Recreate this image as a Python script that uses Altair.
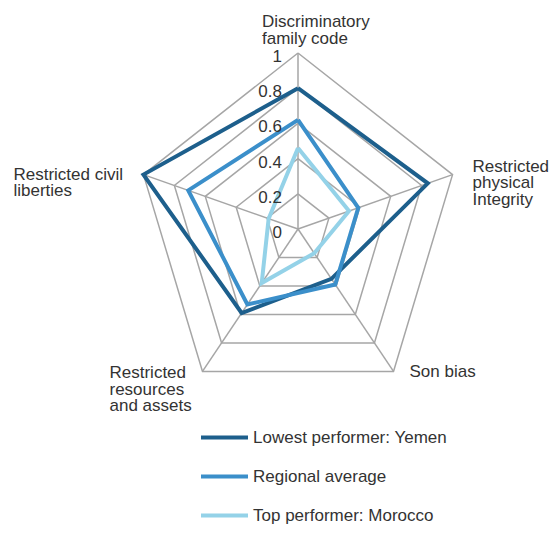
import math
import altair as alt
import pandas as pd

categories = ["Discriminatory family code", "Restricted physical Integrity", "Son bias",
              "Restricted resources and assets", "Restricted civil liberties"]
cat_lines = [["Discriminatory", "family code"], ["Restricted", "physical", "Integrity"], ["Son bias"],
             ["Restricted", "resources", "and assets"], ["Restricted civil", "liberties"]]
series = ["Lowest performer: Yemen", "Regional average", "Top performer: Morocco"]
yemen = [0.80, 0.84, 0.35, 0.59, 1.00]
regional = [0.62, 0.39, 0.39, 0.53, 0.71]
morocco = [0.46, 0.33, 0.17, 0.38, 0.19]
ring_levels = [0.2, 0.4, 0.6, 0.8, 1.0]
tick_labels = ["0", "0.2", "0.4", "0.6", "0.8", "1"]
tick_values = [0, 0.2, 0.4, 0.6, 0.8, 1.0]
colors = ["#1d5f8c", "#3b8fca", "#94d2e8"]

# label offsets (style)
lab_dx = [-36, 20, 16, -93, -130]
lab_dy = [-31, -8, 1, 2, 0]

n = len(categories)
ang = [2 * math.pi * i / n for i in range(n)]

def pt(r, i):
    return r * math.sin(ang[i]), r * math.cos(ang[i])

rows = []
for s, vals in zip(series, [yemen, regional, morocco]):
    for k in range(n + 1):
        i = k % n
        x, y = pt(vals[i], i)
        rows.append({"series": s, "idx": k, "x": x, "y": y})
df = pd.DataFrame(rows)

grid = []
for lv in ring_levels:
    for k in range(n + 1):
        i = k % n
        x, y = pt(lv, i)
        grid.append({"ring": lv, "idx": k, "x": x, "y": y})
gdf = pd.DataFrame(grid)

spokes = pd.DataFrame([{"x": 0.0, "y": 0.0, "x2": pt(1, i)[0], "y2": pt(1, i)[1]} for i in range(n)])
ticks = pd.DataFrame({"x": [0.0] * len(tick_values), "y": tick_values, "t": tick_labels})
labs = pd.DataFrame([{"x": pt(1, i)[0], "y": pt(1, i)[1], "t": cat_lines[i]} for i in range(n)])

W, H = 541, 517
ux, uy = 162.5, 176.0
cxp, cyp = 290, 221
xdom = [-cxp / ux, (W - cxp) / ux]
ydom = [(cyp - H) / uy, cyp / uy]
X = lambda f="x": alt.X(f"{f}:Q", scale=alt.Scale(domain=xdom, nice=False, zero=False), axis=None)
Y = lambda f="y": alt.Y(f"{f}:Q", scale=alt.Scale(domain=ydom, nice=False, zero=False), axis=None)

grid_layer = alt.Chart(gdf).mark_line(color="#a6a6a6", strokeWidth=1.5).encode(
    x=X(), y=Y(), detail="ring:N", order="idx:Q")
spoke_layer = alt.Chart(spokes).mark_rule(color="#a6a6a6", strokeWidth=1.5).encode(
    x=X(), y=Y(), x2="x2:Q", y2="y2:Q")
tick_layer = alt.Chart(ticks).mark_text(align="right", baseline="middle", dx=-16, dy=4,
                                         fontSize=17, color="#333333", font="Liberation Sans").encode(
    x=X(), y=Y(), text="t:N")

label_layers = []
for i in range(n):
    label_layers.append(
        alt.Chart(labs.iloc[[i]]).mark_text(align="left", baseline="middle", dx=lab_dx[i], dy=lab_dy[i],
                                             fontSize=17, lineHeight=16.5, color="#333333",
                                             font="Liberation Sans").encode(x=X(), y=Y(), text="t")
    )

data_layer = alt.Chart(df).mark_line(strokeWidth=4, strokeJoin="miter").encode(
    x=X(), y=Y(), order="idx:Q",
    color=alt.Color("series:N", sort=series,
                    scale=alt.Scale(domain=series, range=colors),
                    legend=alt.Legend(title=None, orient="none", legendX=191, legendY=404,
                                      symbolType="stroke", symbolStrokeWidth=4, symbolSize=2209,
                                      labelFontSize=17, labelFont="Liberation Sans", labelColor="#333333",
                                      labelLimit=400, rowPadding=5, labelOffset=3, padding=0)))

chart = alt.layer(grid_layer, spoke_layer, data_layer, tick_layer, *label_layers).properties(
    width=W, height=H, padding=0, autosize="none"
).configure_view(stroke=None)

chart.save("out.html", embed_options={"renderer": "svg", "actions": False})
